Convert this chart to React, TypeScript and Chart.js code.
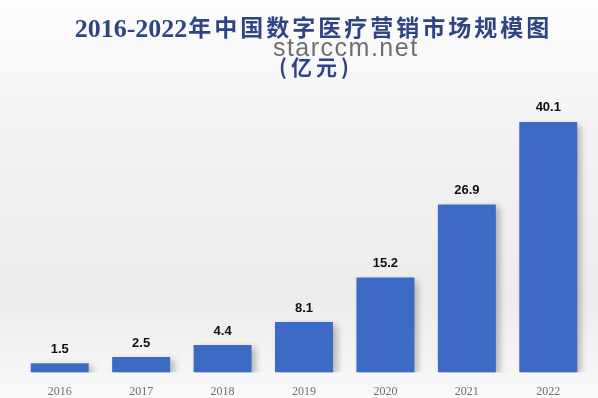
import React, { useEffect, useRef } from "react";
import { Chart, registerables } from "chart.js";

Chart.register(...registerables);

const categories = ["2016", "2017", "2018", "2019", "2020", "2021", "2022"];
const marketSize = [1.5, 2.5, 4.4, 8.1, 15.2, 26.9, 40.1];
const titleYears = "2016-2022";
const titleRest = "年中国数字医疗营销市场规模图";
const titleUnit = "(亿元)";
const watermarkText = "starccm.net";

const TITLE_COLOR = "#2f4485";

const bgPlugin = {
  id: "bg",
  beforeDraw(chart: any) {
    const { ctx, width, height } = chart;
    const g = ctx.createLinearGradient(0, 0, 0, 398);
    g.addColorStop(0, "#fdfdfd");
    g.addColorStop(0.35, "#f3f3f3");
    g.addColorStop(0.75, "#ececec");
    g.addColorStop(1, "#fafafa");
    ctx.save();
    ctx.fillStyle = g;
    ctx.fillRect(0, 0, width, height);
    ctx.restore();
  },
};

const titlePlugin = {
  id: "customTitle",
  afterDraw(chart: any) {
    const ctx = chart.ctx;
    ctx.save();
    ctx.fillStyle = TITLE_COLOR;
    ctx.textBaseline = "alphabetic";
    ctx.textAlign = "left";
    ctx.font = "bold 26px 'Liberation Serif', 'Times New Roman', serif";
    (ctx as any).letterSpacing = "0px";
    const wYears = ctx.measureText(titleYears).width;
    ctx.font = "bold 23px 'Noto Sans CJK SC', sans-serif";
    (ctx as any).letterSpacing = "3px";
    const wRest = ctx.measureText(titleRest).width;
    const total = wYears + wRest;
    const x0 = 313 - total / 2;
    ctx.font = "bold 26px 'Liberation Serif', 'Times New Roman', serif";
    (ctx as any).letterSpacing = "0px";
    ctx.fillText(titleYears, x0, 37);
    ctx.font = "bold 23px 'Noto Sans CJK SC', sans-serif";
    (ctx as any).letterSpacing = "3px";
    ctx.fillText(titleRest, x0 + wYears + 1, 36);
    ctx.font = "bold 21px 'Noto Sans CJK SC', sans-serif";
    (ctx as any).letterSpacing = "4px";
    const w2 = ctx.measureText(titleUnit).width - 4;
    ctx.fillText(titleUnit, 314 - w2 / 2, 75);
    ctx.restore();
  },
};

const shadowPlugin = {
  id: "barShadow",
  beforeDatasetsDraw(chart: any) {
    const ctx = chart.ctx;
    ctx.save();
    ctx.shadowColor = "rgba(0,0,0,0.28)";
    ctx.shadowBlur = 7;
    ctx.shadowOffsetX = 4;
    ctx.shadowOffsetY = 3;
  },
  afterDatasetsDraw(chart: any) {
    chart.ctx.restore();
  },
};

const labelPlugin = {
  id: "valueLabels",
  afterDatasetsDraw(chart: any) {
    const ctx = chart.ctx;
    const meta = chart.getDatasetMeta(0);
    ctx.save();
    ctx.font = "bold 13px 'Liberation Sans', Arial, sans-serif";
    ctx.fillStyle = "#111";
    ctx.textAlign = "center";
    ctx.textBaseline = "middle";
    meta.data.forEach((bar: any, i: number) => {
      ctx.fillText(String(marketSize[i]), bar.x, bar.y - 14);
    });
    ctx.restore();
  },
};

const watermarkPlugin = {
  id: "watermark",
  afterDraw(chart: any) {
    const ctx = chart.ctx;
    ctx.save();
    ctx.font = "25px 'Liberation Sans', Arial, sans-serif";
    (ctx as any).letterSpacing = "1.5px";
    ctx.fillStyle = "rgba(95,95,95,0.9)";
    ctx.textAlign = "left";
    ctx.textBaseline = "alphabetic";
    const w = ctx.measureText(watermarkText).width - 1.5;
    ctx.fillText(watermarkText, 345 - w / 2, 56);
    ctx.restore();
  },
};

export default function App() {
  const ref = useRef<HTMLCanvasElement>(null);
  useEffect(() => {
    if (!ref.current) return;
    const chart = new Chart(ref.current, {
      type: "bar",
      data: {
        labels: categories,
        datasets: [
          {
            data: marketSize,
            backgroundColor: "#3d6ac5",
            borderWidth: 0,
            barPercentage: 0.8,
            categoryPercentage: 0.89,
          },
        ],
      },
      options: {
        animation: false,
        responsive: false,
        maintainAspectRatio: false,
        layout: { padding: { left: 19, right: 9, top: 100, bottom: 1 } },
        plugins: {
          legend: { display: false },
          tooltip: { enabled: false },
          title: { display: false },
        },
        scales: {
          x: {
            grid: { display: false, drawTicks: false },
            border: { display: false },
            ticks: {
              color: "#6e6e6e",
              padding: 12,
              font: { family: "'Liberation Serif', 'Times New Roman', serif", size: 12 },
            },
          },
          y: {
            display: false,
            min: 0,
            max: 43.6,
          },
        },
      },
      plugins: [bgPlugin, shadowPlugin, labelPlugin, titlePlugin, watermarkPlugin],
    });
    return () => chart.destroy();
  }, []);
  return (
    <div style={{ position: "fixed", left: 0, top: 0, width: 598, height: 398, overflow: "hidden" }}>
      <canvas ref={ref} width={598} height={412} style={{ display: "block" }} />
    </div>
  );
}
